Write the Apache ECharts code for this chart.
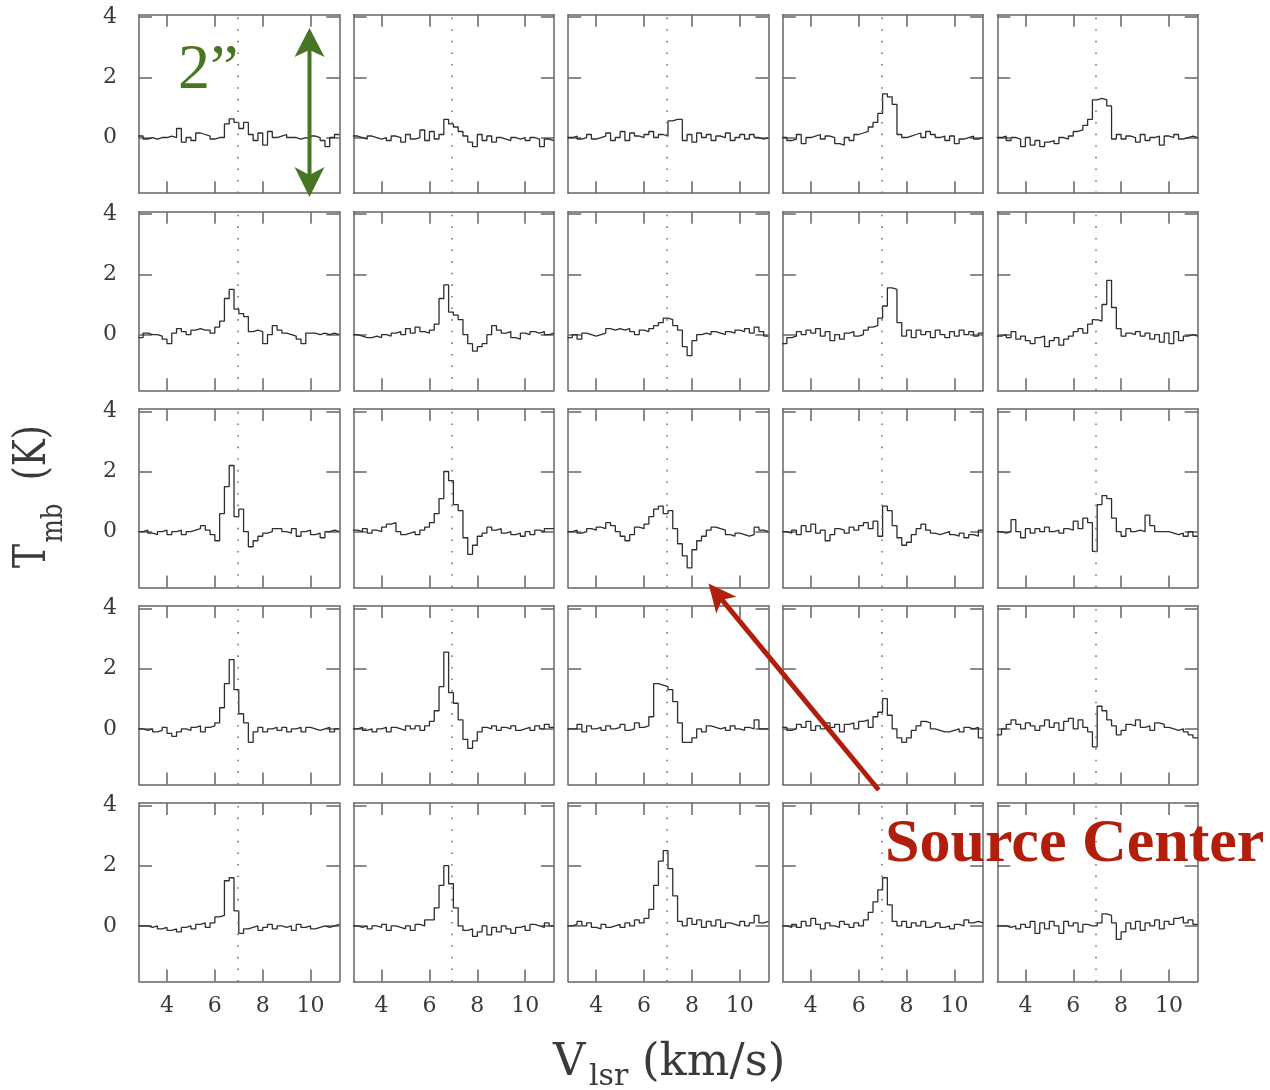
<!DOCTYPE html>
<html><head><meta charset="utf-8">
<script src="https://cdn.jsdelivr.net/npm/echarts@6/dist/echarts.min.js"></script>
<style>html,body{margin:0;padding:0;background:#fff}#chart{width:1270px;height:1090px}</style>
</head><body><div id="chart"></div>
<script>
// Channel edges (km/s), 0.2 km/s channels
const velocityEdges = [2.8,3.0,3.2,3.4,3.6,3.8,4.0,4.2,4.4,4.6,4.8,5.0,5.2,5.4,5.6,5.8,6.0,6.2,6.4,6.6,6.8,7.0,7.2,7.4,7.6,7.8,8.0,8.2,8.4,8.6,8.8,9.0,9.2,9.4,9.6,9.8,10.0,10.2,10.4,10.6,10.8,11.0,11.2];
const xTicks = [4, 6, 8, 10];
const yTicks = [0, 2, 4];
const systemicVelocity = 6.95;

// Tmb (K) per channel, rows top to bottom, columns left to right
const r1c1 = [0.05,-0.05,0.0,-0.05,0.0,0.0,0.05,0.0,0.3,-0.15,0.0,-0.1,0.15,0.1,0.05,-0.05,0.0,0.0,0.45,0.62,0.5,0.3,0.5,0.1,-0.1,0.15,-0.25,0.2,0.0,0.05,0.1,0.0,0.0,-0.05,0.0,-0.05,0.05,0.0,-0.1,-0.3,0.0,0.1];
const r1c2 = [0.05,0.0,-0.05,0.05,0.0,-0.05,0.0,-0.1,0.05,0.0,-0.15,0.1,-0.05,0.0,0.25,-0.1,0.2,-0.05,0.1,0.6,0.45,0.35,0.2,0.05,-0.15,-0.3,0.1,-0.1,0.05,-0.15,0.0,-0.05,-0.1,0.0,-0.05,0.0,-0.1,0.0,-0.05,-0.3,-0.05,-0.1];
const r1c3 = [0.0,0.05,-0.05,0.0,0.1,-0.05,0.0,0.05,0.15,-0.1,0.0,0.2,-0.1,0.15,0.05,0.0,0.1,0.2,0.0,0.1,0.05,0.55,0.6,0.6,-0.1,0.1,-0.15,0.15,0.0,0.1,-0.1,0.05,0.0,0.15,-0.1,0.0,0.1,-0.05,0.1,0.0,-0.05,0.0];
const r1c4 = [0.0,-0.1,-0.05,0.1,-0.2,0.0,0.05,0.1,-0.05,0.05,0.0,-0.2,-0.25,0.0,-0.1,0.1,0.15,0.2,0.35,0.5,0.8,1.45,1.35,1.1,0.1,0.0,0.05,0.1,0.15,0.0,0.2,0.1,0.0,0.05,-0.1,0.05,-0.2,-0.05,0.0,0.05,-0.05,0.0];
const r1c5 = [0.0,0.05,-0.1,0.0,-0.05,-0.3,0.0,-0.25,-0.1,-0.3,-0.15,-0.1,-0.2,0.0,-0.05,0.05,0.2,0.25,0.4,0.6,1.25,1.3,1.25,1.05,-0.05,0.1,-0.05,0.05,0.0,-0.15,0.1,-0.1,0.0,0.05,-0.25,0.05,0.0,0.1,-0.05,0.0,0.05,0.0];

const r2c1 = [-0.1,0.05,0.0,0.0,-0.05,-0.15,-0.3,0.05,0.2,0.1,0.0,0.15,0.2,0.15,0.15,0.05,0.25,0.45,1.2,1.5,0.85,0.7,0.6,0.1,0.15,0.1,-0.3,0.0,0.3,0.15,0.05,0.0,-0.05,-0.15,-0.3,0.05,0.05,0.0,0.05,0.0,0.05,0.0];
const r2c2 = [0.0,-0.05,-0.1,-0.1,-0.05,-0.1,0.0,-0.05,0.05,0.1,0.0,0.2,0.05,0.25,0.1,0.05,0.15,0.35,1.2,1.65,0.75,0.65,0.5,0.0,-0.3,-0.55,-0.4,-0.3,0.0,0.3,0.15,0.05,0.1,-0.1,-0.15,0.05,0.0,0.1,0.05,0.1,0.0,0.05];
const r2c3 = [-0.1,0.0,-0.15,0.05,0.0,-0.05,0.0,0.05,0.2,0.15,0.2,0.15,0.2,0.1,0.0,0.15,0.1,0.2,0.3,0.4,0.55,0.5,0.3,0.15,-0.4,-0.7,-0.2,0.0,0.05,0.0,0.1,0.05,0.0,0.1,0.05,0.15,0.1,0.2,0.05,0.25,0.1,-0.05];
const r2c4 = [-0.3,-0.1,-0.05,0.1,0.0,0.15,0.05,0.2,-0.05,0.1,-0.2,0.0,-0.15,0.05,0.1,-0.05,0.0,0.15,0.25,0.3,0.55,0.95,1.55,1.5,0.4,-0.05,0.15,-0.1,0.15,0.0,0.1,-0.1,0.15,0.0,-0.1,0.1,-0.05,0.15,0.0,0.1,-0.05,0.05];
const r2c5 = [-0.05,0.0,-0.1,0.1,-0.15,-0.05,-0.2,-0.3,-0.1,-0.05,-0.4,-0.2,-0.1,-0.35,-0.15,-0.05,0.1,0.2,0.05,0.35,0.5,0.45,1.0,1.8,0.9,0.2,-0.05,0.05,0.0,0.1,-0.05,0.05,-0.15,0.0,-0.25,0.05,-0.3,0.1,-0.2,-0.05,0.0,-0.05];

const r3c1 = [0.0,0.05,-0.05,-0.1,0.0,0.05,-0.1,0.0,0.05,-0.1,0.0,0.05,0.1,0.2,0.05,-0.1,-0.3,0.6,1.5,2.2,0.5,0.75,0.0,-0.5,-0.3,-0.15,-0.05,0.0,0.1,0.1,0.0,-0.05,0.1,-0.15,0.0,0.05,-0.1,-0.05,-0.2,0.0,0.05,0.0];
const r3c2 = [0.05,0.0,0.1,-0.05,0.05,0.0,0.15,0.25,0.3,0.0,-0.1,-0.05,0.0,-0.1,0.05,0.15,0.3,0.6,1.1,2.0,1.7,0.9,0.7,-0.2,-0.75,-0.45,-0.15,-0.05,0.15,0.05,0.1,-0.05,0.0,-0.1,-0.05,-0.15,0.0,-0.1,0.05,0.0,0.1,0.1];
const r3c3 = [0.0,0.05,-0.05,0.0,0.1,0.05,0.15,0.1,0.3,0.2,0.0,-0.15,-0.3,-0.1,0.15,0.1,0.25,0.5,0.75,0.85,0.6,0.7,0.1,-0.4,-0.8,-1.2,-0.6,-0.3,-0.15,0.05,0.15,0.1,0.05,-0.1,-0.15,-0.05,-0.1,-0.15,-0.1,0.15,0.05,0.0];
const r3c4 = [0.0,-0.05,0.05,-0.1,0.2,0.0,0.25,-0.05,0.05,-0.3,-0.1,0.1,0.05,-0.05,0.15,0.05,0.2,0.3,0.1,0.35,-0.15,0.85,0.7,0.2,-0.2,-0.45,-0.35,-0.1,0.1,0.25,0.05,-0.05,-0.1,-0.05,0.0,-0.1,-0.15,-0.05,-0.2,-0.1,-0.15,0.05];
const r3c5 = [0.0,-0.05,0.0,0.4,0.0,-0.2,0.1,-0.05,0.1,0.0,0.15,0.0,0.05,-0.05,0.1,0.05,0.35,0.1,0.45,0.3,-0.65,0.9,1.2,1.1,0.45,0.0,-0.15,0.1,0.0,0.05,0.0,0.55,0.2,0.0,0.0,0.0,-0.05,-0.1,-0.05,-0.15,0.0,-0.15];

const r4c1 = [0.0,-0.05,0.0,-0.1,-0.05,0.05,-0.15,-0.25,-0.1,0.0,-0.05,0.05,0.1,-0.1,0.05,0.1,0.2,0.7,1.5,2.3,1.3,0.5,0.2,-0.45,-0.1,0.05,-0.1,0.0,0.05,-0.05,0.05,-0.1,0.0,0.05,-0.1,0.05,0.0,-0.05,0.0,0.05,-0.1,0.0];
const r4c2 = [0.0,0.05,-0.05,0.0,-0.1,0.0,0.05,-0.1,0.05,0.0,-0.05,0.1,0.0,0.1,-0.05,0.1,0.25,0.6,1.4,2.55,1.2,0.85,0.3,-0.35,-0.65,-0.4,-0.1,0.05,0.0,0.1,-0.05,0.05,0.0,0.1,-0.05,0.0,0.05,-0.05,0.1,0.0,0.15,0.05];
const r4c3 = [0.0,0.0,0.15,-0.1,0.1,0.0,0.05,-0.05,0.1,0.0,0.05,0.15,-0.05,0.0,0.2,0.05,0.1,0.4,1.5,1.45,1.4,1.3,0.9,0.2,-0.45,-0.45,-0.3,0.0,-0.1,0.1,0.05,0.0,0.05,-0.05,0.1,0.0,-0.05,0.05,0.0,0.3,0.0,0.0];
const r4c4 = [0.05,-0.05,0.0,0.15,0.05,0.25,-0.05,0.1,0.0,0.2,0.05,0.15,-0.1,0.15,0.2,0.0,0.25,0.3,0.05,0.4,0.55,1.0,0.45,0.0,-0.3,-0.45,-0.3,-0.05,0.1,0.25,0.2,0.0,-0.05,-0.1,-0.1,-0.05,0.0,-0.1,0.05,0.0,0.05,-0.3];
const r4c5 = [-0.2,0.0,0.15,0.3,0.15,0.0,0.2,0.1,-0.05,0.1,0.3,0.05,0.2,-0.05,0.25,0.35,0.0,0.3,0.05,-0.1,-0.6,0.75,0.6,0.3,0.1,-0.2,-0.05,0.15,0.1,0.3,0.05,0.1,-0.05,0.2,0.15,0.05,0.0,-0.05,0.0,-0.1,-0.2,-0.3];

const r5c1 = [0.0,0.0,-0.05,0.0,-0.1,-0.05,-0.15,-0.1,-0.2,-0.05,0.0,-0.1,0.05,0.1,-0.05,0.1,0.3,0.35,1.5,1.6,0.5,-0.25,-0.1,-0.05,0.0,-0.15,-0.05,0.05,-0.1,0.0,-0.05,0.0,-0.15,0.05,-0.05,0.0,-0.1,-0.05,0.0,-0.05,0.0,0.05];
const r5c2 = [0.0,-0.05,0.0,-0.1,0.0,-0.05,0.05,-0.15,0.0,-0.05,-0.1,0.0,-0.15,0.05,0.0,0.2,0.2,0.6,1.35,2.0,1.4,0.6,0.0,-0.15,-0.1,-0.35,-0.2,0.0,-0.3,-0.05,-0.2,0.0,-0.1,-0.25,-0.05,0.0,-0.15,0.05,0.0,-0.05,0.1,0.0];
const r5c3 = [0.0,0.05,0.15,0.0,0.1,-0.05,-0.1,0.05,-0.05,0.0,0.05,-0.05,0.1,0.0,0.2,0.1,0.25,0.55,1.35,2.15,2.5,1.9,1.0,0.15,0.0,0.25,0.05,0.2,-0.05,0.15,0.0,0.2,-0.05,0.1,0.05,0.0,0.15,0.0,0.1,0.35,0.1,0.15];
const r5c4 = [0.0,-0.05,0.05,-0.05,0.15,0.0,0.25,0.05,-0.1,0.1,0.0,-0.05,0.15,0.05,-0.05,0.1,0.0,0.2,0.45,0.8,1.2,1.6,0.7,0.15,0.0,0.15,-0.05,0.1,0.0,0.15,-0.05,0.0,0.1,-0.05,0.0,-0.1,0.05,0.0,0.2,0.1,0.15,0.1];
const r5c5 = [0.0,0.0,-0.05,0.0,-0.1,0.05,-0.05,0.15,-0.25,0.1,-0.1,0.15,0.0,-0.25,0.15,0.0,0.1,-0.2,0.05,0.0,0.0,0.1,0.4,0.35,0.1,-0.45,-0.2,0.1,-0.1,0.15,-0.15,0.1,0.0,0.2,-0.1,0.15,0.05,0.25,0.3,0.1,0.2,0.05];

const panels = [
  [r1c1, r1c2, r1c3, r1c4, r1c5],
  [r2c1, r2c2, r2c3, r2c4, r2c5],
  [r3c1, r3c2, r3c3, r3c4, r3c5],
  [r4c1, r4c2, r4c3, r4c4, r4c5],
  [r5c1, r5c2, r5c3, r5c4, r5c5]
];

const chart = echarts.init(document.getElementById('chart'), null, {renderer: 'canvas'});

const AX = '#666';
const TXT = '#3a3a3a';
const FONT = 'DejaVu Serif';
const grids = [], xAxes = [], yAxes = [], series = [];
const X0 = 139, Y0 = 14.7, PW = 200.3, PH = 178.5, DX = 214.6, DY = 197.1;

for (let r = 0; r < 5; r++) {
  for (let c = 0; c < 5; c++) {
    const g = grids.length;
    grids.push({left: X0 + c * DX, top: Y0 + r * DY, width: PW, height: PH, containLabel: false});
    const lineStyle = {color: AX, width: 1.5};
    const xBase = {
      gridIndex: g, type: 'value', min: 2.83, max: 11.2,
      axisLine: {show: true, onZero: false, lineStyle},
      axisTick: {show: true, inside: true, length: 12, customValues: xTicks, lineStyle},
      splitLine: {show: false}
    };
    xAxes.push(Object.assign({}, xBase, {
      position: 'bottom',
      axisLabel: {show: r === 4, customValues: xTicks, margin: 14, fontFamily: FONT, fontSize: 22, color: TXT}
    }));
    xAxes.push(Object.assign({}, xBase, {position: 'top', axisLabel: {show: false}}));
    const yBase = {
      gridIndex: g, type: 'value', min: -1.85, max: 4.08,
      axisLine: {show: true, onZero: false, lineStyle},
      axisTick: {show: true, inside: true, length: 13, customValues: yTicks, lineStyle},
      splitLine: {show: false}
    };
    yAxes.push(Object.assign({}, yBase, {
      position: 'left',
      axisLabel: {show: c === 0, customValues: yTicks, margin: 22, fontFamily: FONT, fontSize: 22, color: TXT}
    }));
    yAxes.push(Object.assign({}, yBase, {position: 'right', axisLabel: {show: false}}));

    const vals = panels[r][c];
    series.push({
      type: 'line', xAxisIndex: 2 * g, yAxisIndex: 2 * g,
      step: 'end', showSymbol: false, symbol: 'none', clip: true,
      lineStyle: {color: '#2e2e2e', width: 1.3},
      data: velocityEdges.map((v, i) => [v, vals[Math.min(i, vals.length - 1)]]),
      markLine: {
        silent: true, symbol: 'none', label: {show: false},
        lineStyle: {color: '#777', width: 1.6, type: [1.6, 10]},
        data: [{xAxis: systemicVelocity}]
      }
    });
  }
}

const GREEN = '#46762300'.slice(0, 7), RED = '#b11e0c';
// red arrow geometry
const tip = [708.5, 583.5], tail = [878.7, 790];
const dx = tail[0] - tip[0], dy = tail[1] - tip[1], L = Math.hypot(dx, dy);
const ux = dx / L, uy = dy / L, px = -uy, py = ux;
const hl = 28, hw = 13;
const base = [tip[0] + hl * ux, tip[1] + hl * uy];
const notch = [tip[0] + 21 * ux, tip[1] + 21 * uy];

const graphic = [
  // x axis title
  {type: 'text', x: 553, y: 1063, z: 100, style: {text: 'V', fontFamily: FONT, fontSize: 45, fill: TXT, align: 'left', verticalAlign: 'middle', textAlign: 'left', textVerticalAlign: 'middle'}},
  {type: 'text', x: 589, y: 1077, z: 100, style: {text: 'lsr', fontFamily: FONT, fontSize: 30, fill: TXT, align: 'left', verticalAlign: 'middle', textAlign: 'left', textVerticalAlign: 'middle'}},
  {type: 'text', x: 642, y: 1063, z: 100, style: {text: '(km/s)', fontFamily: FONT, fontSize: 45, fill: TXT, align: 'left', verticalAlign: 'middle', textAlign: 'left', textVerticalAlign: 'middle'}},
  // y axis title (rotated)
  {type: 'group', x: 0, y: 568, rotation: Math.PI / 2, scaleX: 0.82, z: 100, children: [
    {type: 'text', x: 0, y: 34, style: {text: 'T', fontFamily: FONT, fontSize: 44, fill: TXT, align: 'left', verticalAlign: 'middle', textAlign: 'left', textVerticalAlign: 'middle'}},
    {type: 'text', x: 31, y: 54, style: {text: 'mb', fontFamily: FONT, fontSize: 30, fill: TXT, align: 'left', verticalAlign: 'middle', textAlign: 'left', textVerticalAlign: 'middle'}},
    {type: 'text', x: 107, y: 34, style: {text: '(K)', fontFamily: FONT, fontSize: 44, fill: TXT, align: 'left', verticalAlign: 'middle', textAlign: 'left', textVerticalAlign: 'middle'}}
  ]},
  // green scale label and double arrow
  {type: 'text', x: 178, y: 71, z: 100, style: {text: '2\u201D', fontFamily: 'Liberation Serif', fontSize: 64, fill: GREEN, align: 'left', verticalAlign: 'middle', textAlign: 'left', textVerticalAlign: 'middle'}},
  {type: 'line', z: 100, shape: {x1: 309.5, y1: 48, x2: 309.5, y2: 177}, style: {stroke: GREEN, lineWidth: 4}},
  {type: 'polygon', z: 100, shape: {points: [[309.5, 28], [324.5, 57], [309.5, 50], [294.5, 57]]}, style: {fill: GREEN}},
  {type: 'polygon', z: 100, shape: {points: [[309.5, 197], [324.5, 167], [309.5, 175], [294.5, 167]]}, style: {fill: GREEN}},
  // red arrow and label
  {type: 'line', z: 100, shape: {x1: notch[0], y1: notch[1], x2: tail[0], y2: tail[1]}, style: {stroke: RED, lineWidth: 5}},
  {type: 'polygon', z: 100, shape: {points: [tip, [base[0] + hw * px, base[1] + hw * py], notch, [base[0] - hw * px, base[1] - hw * py]]}, style: {fill: RED}},
  {type: 'text', x: 885, y: 845, z: 100, style: {text: 'Source Center', fontFamily: 'Liberation Serif', fontWeight: 'bold', fontSize: 62, fill: RED, align: 'left', verticalAlign: 'middle', textAlign: 'left', textVerticalAlign: 'middle'}}
];

chart.setOption({
  backgroundColor: '#fff',
  animation: false,
  grid: grids,
  xAxis: xAxes,
  yAxis: yAxes,
  series: series,
  graphic: graphic
});
</script>
</body></html>
